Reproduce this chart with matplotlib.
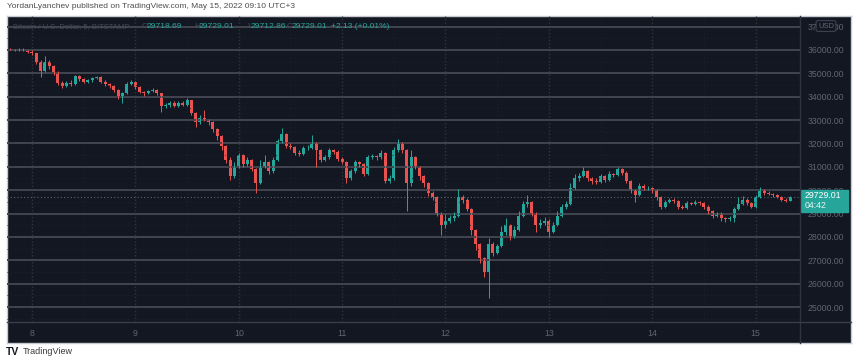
import matplotlib.pyplot as plt
from matplotlib.patches import Rectangle
from matplotlib.lines import Line2D

plt.rcParams['font.family'] = ['Liberation Sans', 'DejaVu Sans']

# BTC/USD, one candle per hour, hours counted from May 8 00:00
hours = list(range(-6, 177))
first_open = 36000

closes = [
    # May 7 (last hours)
    36040, 36020, 35990, 36050, 35980, 35930,
    # May 8
    35850, 35500, 35100, 35500, 35300, 35050, 34600, 34450, 34600, 34550, 34900, 34750,
    34650, 34700, 34800, 34850, 34650, 34550, 34450, 34300, 34000, 34150, 34550, 34650,
    # May 9
    34400, 34200, 34150, 34250, 34300, 34150, 33600, 33650, 33750, 33600, 33750, 33650,
    33850, 33300, 32900, 33100, 33000, 32900, 32600, 32300, 31900, 31300, 30600, 31000,
    # May 10
    31500, 31100, 31300, 30900, 30300, 31000, 31200, 30800, 31300, 32100, 32400, 31900,
    31850, 31600, 31550, 31800, 31800, 32000, 31700, 31300, 31400, 31700, 31650, 31350,
    # May 11
    31200, 30500, 30800, 31200, 31100, 30700, 31400, 31450, 31400, 31600, 30400, 30500,
    31700, 32000, 31700, 30300, 31400, 31000, 30600, 30300, 29900, 29700, 29000, 28500,
    # May 12
    28700, 28800, 28900, 29700, 29600, 29200, 28300, 27700, 27100, 26500, 27700, 27300,
    27600, 28200, 28500, 28000, 28300, 28900, 29400, 29500, 29000, 28500, 28600, 28700,
    # May 13
    28200, 28500, 28900, 29300, 29400, 30100, 30500, 30600, 30800, 30500, 30400, 30350,
    30600, 30450, 30700, 30650, 30900, 30750, 30400, 30000, 29800, 30200, 30100, 30100,
    # May 14
    30000, 29700, 29300, 29500, 29600, 29550, 29300, 29250, 29450, 29400, 29500, 29450,
    29300, 29100, 28900, 29000, 28800, 28750, 28800, 29200, 29400, 29600, 29450, 29300,
    # May 15
    29700, 30000, 29900, 29850, 29800, 29700, 29600, 29550, 29729.01,
]

highs = [
    36080, 36090, 36050, 36100, 36070, 36010,
    35980, 35880, 35560, 35750, 35580, 35350, 35100, 34680, 34680, 34700, 34950, 34950,
    34800, 34760, 34860, 34900, 34880, 34700, 34600, 34500, 34350, 34200, 34620, 34700,
    34680, 34450, 34250, 34300, 34380, 34350, 34180, 33750, 33820, 33800, 33800, 33800,
    33950, 33880, 33350, 33200, 33430, 33050, 32950, 32650, 32350, 31950, 31400, 31200,
    31600, 31550, 31400, 31350, 30950, 31300, 31500, 31250, 31400, 32200, 32660, 32450,
    32000, 31900, 31700, 31900, 31950, 32350, 32050, 31750, 31500, 31800, 31750, 31700,
    31400, 31250, 30900, 31300, 31250, 31150, 31500, 31550, 31500, 31700, 31650, 30650,
    31850, 32200, 32050, 31750, 31700, 31450, 31050, 30650, 30350, 29950, 29750, 29050,
    29000, 28950, 29050, 30050, 29800, 29650, 29250, 28350, 27750, 27150, 27950, 27800,
    27700, 28450, 28800, 28550, 28450, 29100, 29550, 29800, 29550, 29050, 28750, 28850,
    28750, 28650, 29100, 29400, 29550, 30300, 30700, 30750, 31000, 30850, 30550, 30500,
    30700, 30650, 30800, 30750, 31000, 30950, 30800, 30450, 30050, 30300, 30250, 30200,
    30150, 30050, 29750, 29600, 29680, 29650, 29600, 29350, 29520, 29500, 29560, 29550,
    29500, 29350, 29150, 29080, 29050, 28850, 28880, 29300, 29700, 29750, 29650, 29500,
    29800, 30150, 30050, 29950, 29900, 29850, 29750, 29650, 29760,
]

lows = [
    35960, 35990, 35950, 35970, 35950, 35880,
    35780, 35420, 34850, 35050, 35200, 34950, 34500, 34380, 34400, 34480, 34520, 34680,
    34580, 34600, 34650, 34750, 34600, 34480, 34380, 34200, 33900, 33750, 34100, 34500,
    34350, 34150, 34050, 34100, 34200, 34080, 33350, 33500, 33580, 33550, 33560, 33600,
    33620, 33200, 32700, 32850, 32950, 32800, 32500, 32150, 31700, 31150, 30430, 30500,
    30950, 31000, 31050, 30800, 29900, 30250, 30950, 30700, 30750, 31250, 32000, 31800,
    31750, 31500, 31450, 31500, 31700, 31750, 31000, 31200, 31250, 31350, 31550, 31250,
    31100, 30300, 30450, 30750, 31000, 30600, 30650, 31350, 31300, 31350, 30300, 30300,
    30450, 31650, 31600, 29100, 30200, 30900, 30450, 30150, 29750, 29600, 28900, 28100,
    28400, 28600, 28700, 28850, 29450, 29100, 28100, 27450, 26900, 26300, 25400, 27200,
    27250, 27550, 28100, 27850, 27950, 28250, 28850, 29300, 28900, 28200, 28400, 28500,
    28000, 28150, 28450, 28850, 29200, 29350, 30050, 30400, 30550, 30400, 30250, 30250,
    30300, 30350, 30400, 30550, 30600, 30650, 30300, 29900, 29500, 29750, 30000, 30000,
    29900, 29600, 29200, 29250, 29450, 29450, 29200, 29180, 29200, 29350, 29350, 29380,
    29200, 29000, 28820, 28850, 28700, 28650, 28680, 28620, 29150, 29350, 29380, 29250,
    29250, 29650, 29800, 29780, 29720, 29650, 29550, 29480, 29520,
]

opens = [first_open] + closes[:-1]

day_ticks = [0, 24, 48, 72, 96, 120, 144, 168]
day_labels = ['8', '9', '10', '11', '12', '13', '14', '15']
price_ticks = list(range(25000, 37001, 1000))
price_labels = ['%d.00' % p for p in price_ticks]

last_price = 29729.01
bg = '#131722'
up = '#26a69a'
down = '#e9524e'
txt = '#62656f'
dim = '#454955'

W, H = 858, 361
def fx(px):
    return px / W
def fy(py):
    return 1 - py / H

fig = plt.figure(figsize=(8.58, 3.61), dpi=100)
fig.patch.set_facecolor('white')

# dark panel incl. price and time scales
panel = fig.add_axes([fx(7), fy(343), fx(844), 327 / H])
panel.set_facecolor(bg)
panel.set_xticks([])
panel.set_yticks([])
for s in panel.spines.values():
    s.set_color('#c8cad0')
    s.set_linewidth(1)

ax = fig.add_axes([fx(7), fy(322), fx(793), 306 / H])
ax.patch.set_alpha(0)
ax.set_xlim(-5.8, 178.3)
ax.set_ylim(24358, 37455)
for s in ax.spines.values():
    s.set_visible(False)

# faint dotted grid
ax.hlines([p + 500 for p in price_ticks[:-1]] + [24500], -5.8, 178.3,
          color='#1f2330', lw=0.7, linestyles=(0, (1, 3)))
ax.vlines([d + 12 for d in day_ticks], 24358, 37455, color='#1f2330', lw=0.7, linestyles=(0, (1, 3)))
ax.vlines(day_ticks, 24358, 37455, color='#30343f', lw=1.0, linestyles=(0, (1, 1.5)))

# horizontal levels
ax.hlines(price_ticks, -5.8, 178.3, color='#42454f', lw=1.4)
ax.axhline(last_price, color='#56646b', lw=0.8, ls=(0, (1, 2)))

cols = [up if c >= o else down for o, c in zip(opens, closes)]
ax.vlines(hours, lows, highs, colors=cols, lw=0.7)
ax.bar(hours, [c - o for o, c in zip(opens, closes)], bottom=opens,
       width=0.7, color=cols, linewidth=0)

ax.yaxis.tick_right()
ax.set_yticks(price_ticks)
ax.set_yticklabels(price_labels)
ax.set_xticks(day_ticks)
ax.set_xticklabels(day_labels)
ax.tick_params(axis='y', length=0, pad=5.5, labelsize=6.3, labelcolor=txt)
ax.tick_params(axis='x', length=0, pad=4.8, labelsize=6.3, labelcolor=txt)

# scale separators
fig.add_artist(Line2D([fx(800), fx(800)], [fy(343), fy(16)], color='#2f3340', lw=1))
fig.add_artist(Line2D([fx(7), fx(851)], [fy(322), fy(322)], color='#3a3e4a', lw=1))

# last price badge
fig.add_artist(Rectangle((fx(801), fy(212)), fx(47), 22 / H, color=up, transform=fig.transFigure))
fig.text(fx(805), fy(196), '29729.01', color='white', fontsize=6.3, va='center')
fig.text(fx(805), fy(206), '04:42', color='#e8f4f2', fontsize=6.3, va='center')

fig.text(fx(826), fy(26), 'USD', color=txt, fontsize=5.5, ha='center', va='center',
         bbox=dict(boxstyle='round,pad=0.25', fc=bg, ec='#3e424e', lw=0.8))

# legend line
fig.text(fx(13), fy(27), 'Bitcoin / U.S. Dollar, 5, BITSTAMP', color=dim, fontsize=5.5, va='center')
parts = [(142, 'O', dim), (147, '29718.69', up), (194, 'H', dim), (199, '29729.01', up),
         (247, 'L', dim), (251, '29712.86', up), (287, 'C', dim), (292, '29729.01', up),
         (331, '+2.13 (+0.01%)', up)]
for x, s, c in parts:
    fig.text(fx(x), fy(27), s, color=c, fontsize=6.1, va='center')

fig.text(fx(7), fy(7), 'YordanLyanchev published on TradingView.com, May 15, 2022 09:10 UTC+3',
         color='#4d4d4d', fontsize=6.0, va='center')
fig.text(fx(6), fy(352), 'TV', color=bg, fontsize=7.5, fontweight='bold', va='center')
fig.text(fx(23), fy(352), 'TradingView', color='#3a3a3a', fontsize=6.5, va='center')

plt.savefig('out.png', dpi=100)
